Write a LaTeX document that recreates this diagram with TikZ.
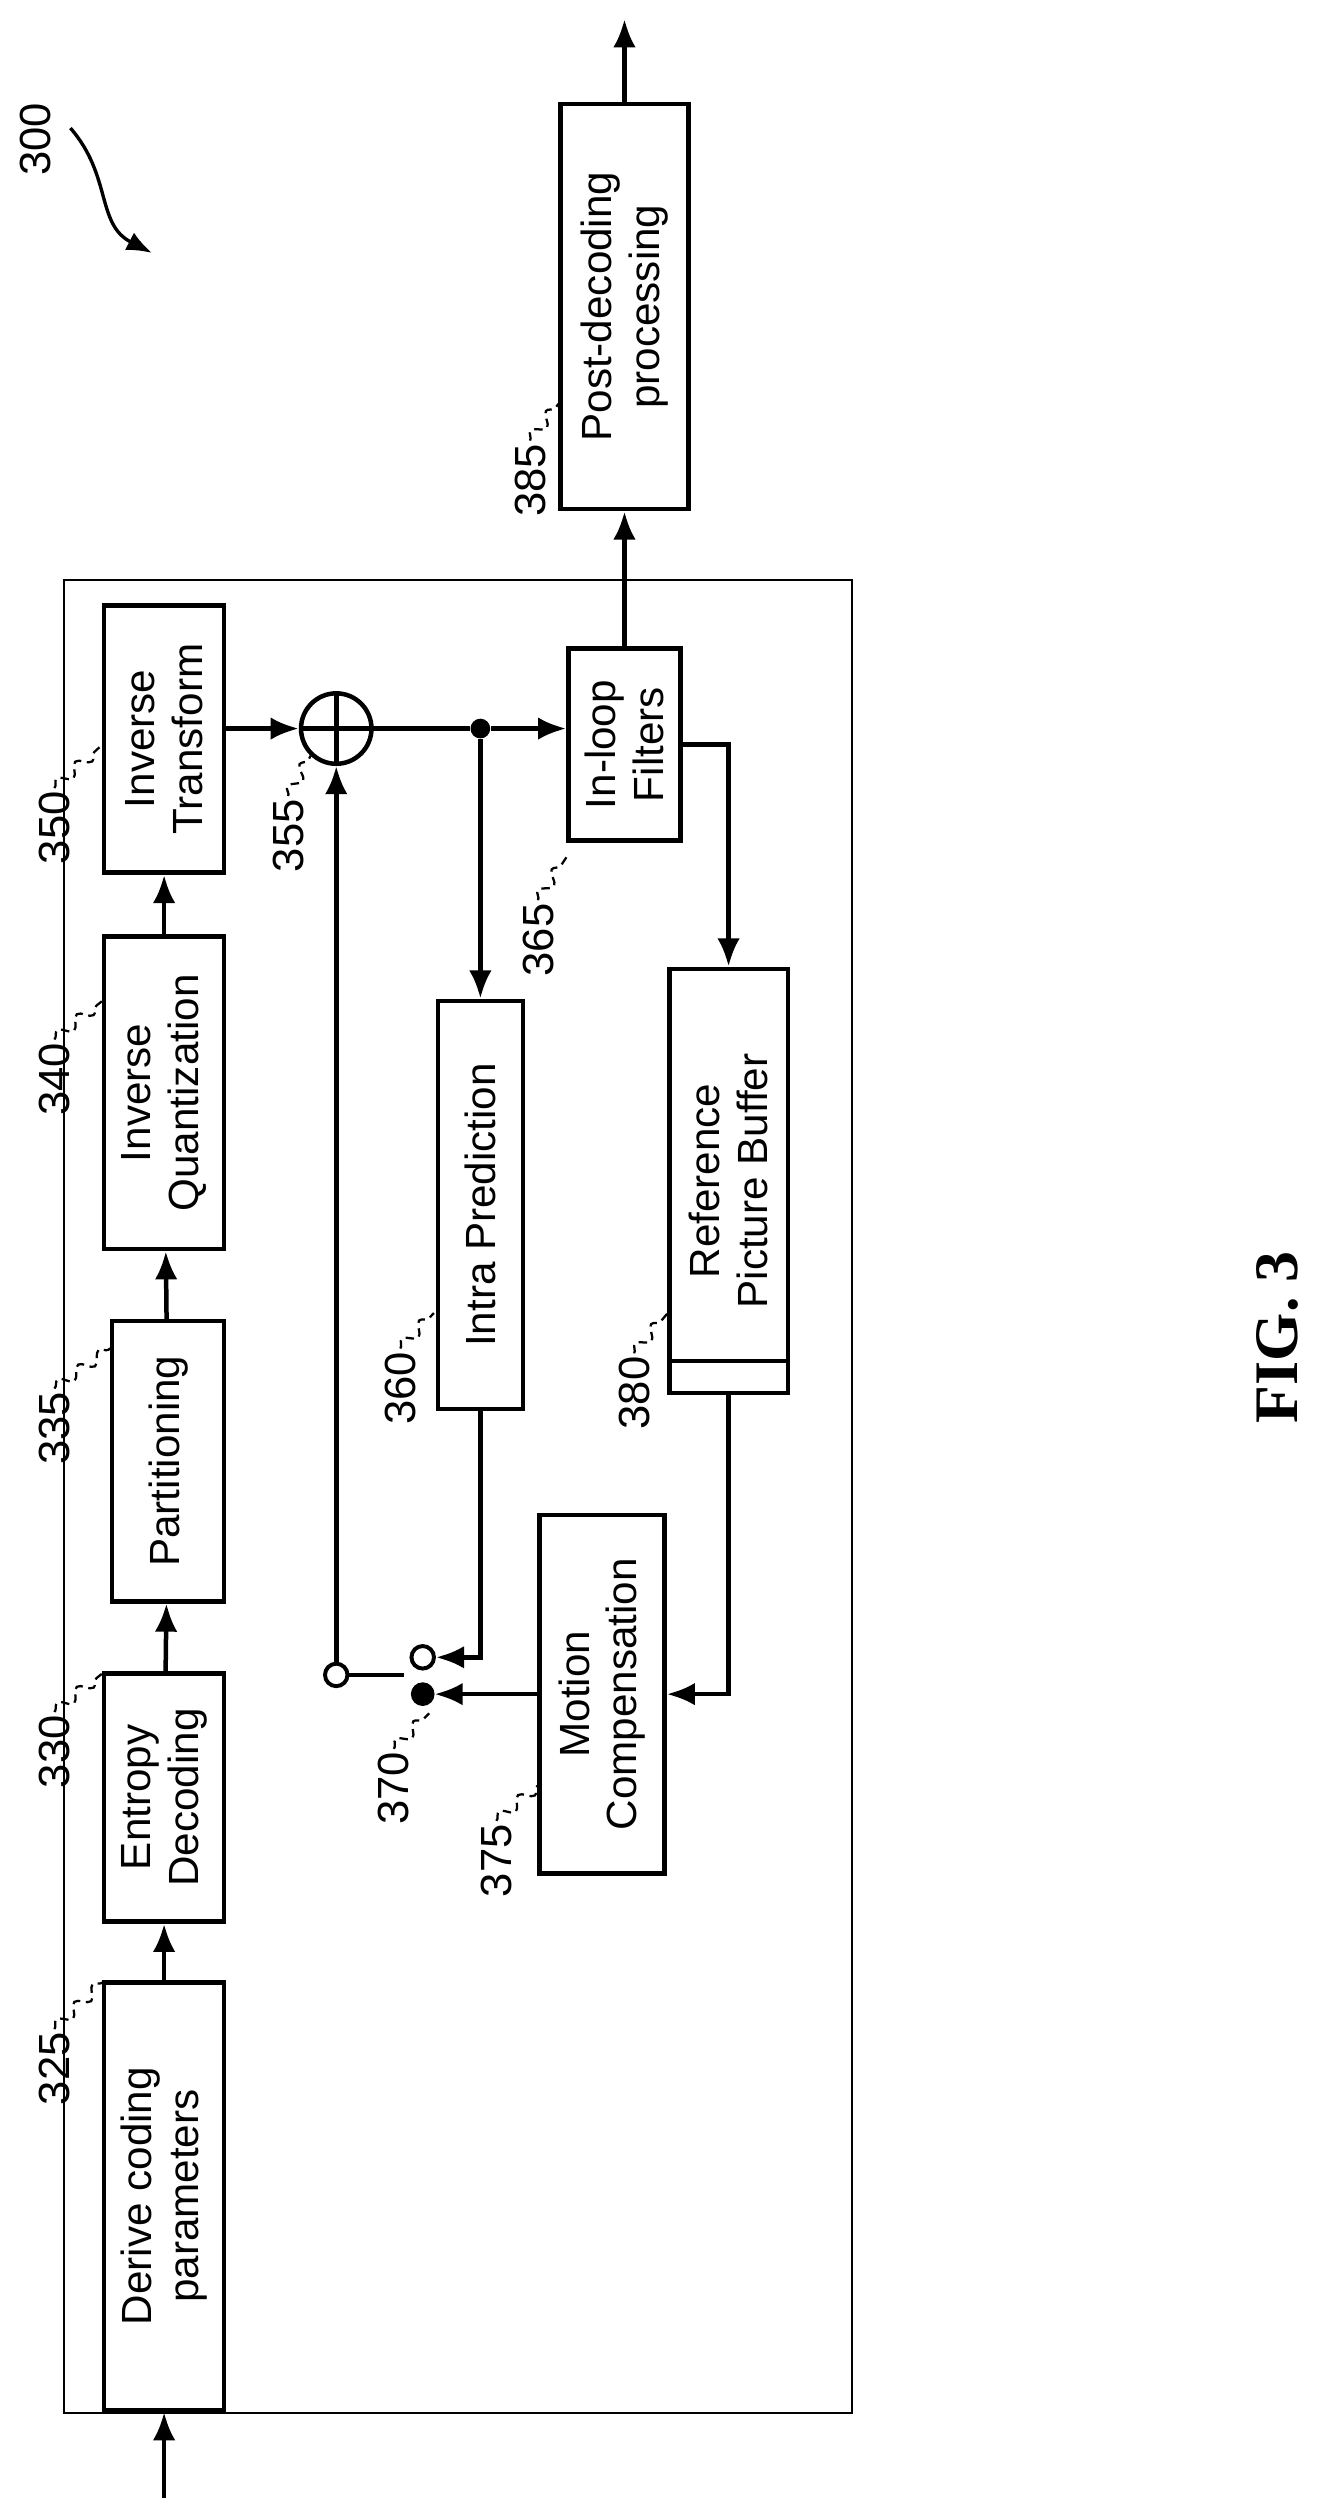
\documentclass[tikz,border=0pt]{standalone}
\usepackage{fontspec}
\setmainfont{Liberation Sans}
\newfontfamily\figfont{Liberation Serif}
\usetikzlibrary{arrows.meta,decorations.pathmorphing}
\def\unitpx{0.02cm}
\tikzset{
  blk/.style={draw, line width=1.6pt, align=center, inner sep=0pt, font=\fontsize{15}{17}\selectfont},
  sz/.style 2 args={minimum width={#1*\unitpx}, minimum height={#2*\unitpx}},
  arr/.style={line width=1.6pt, -{Latex[length=10pt,width=8pt]}},
  wire/.style={line width=1.6pt},
  lab/.style={font=\fontsize{15.5}{17}\selectfont, inner sep=1pt},
  lead/.style={decorate, decoration={snake, amplitude=2pt, segment length=9pt}, densely dashed, line width=0.8pt},
}
\begin{document}
\begin{tikzpicture}[x=0.02cm, y=0.02cm]
\begin{scope}[rotate=90, transform shape]
  \useasboundingbox (0,0) rectangle (1570,830);
  % outer frame
  \draw[line width=0.8pt] (63,298) rectangle (1208,790);
  % blocks
  \node[blk, sz={267}{75}] (derive) at (198.5,727.5) {Derive coding\\parameters};
  \node[blk, sz={155}{75}] (entropy) at (447.5,727.5) {Entropy\\Decoding};
  \node[blk, sz={175}{70}] (part) at (657.5,725) {Partitioning};
  \node[blk, sz={195}{75}] (iquant) at (887.5,727.5) {Inverse\\Quantization};
  \node[blk, sz={167}{75}] (itrans) at (1108.5,727.5) {Inverse\\Transform};
  \node[draw, circle, line width=1.6pt, minimum size={44*\unitpx}, inner sep=0pt] (sum) at (1115,620) {};
  \draw[wire] (sum.north) -- (sum.south) (sum.west) -- (sum.east);
  \node[blk, sz={120}{70}] (inloop) at (1105,440) {In-loop\\Filters};
  \node[blk, sz={253}{80}] (post) at (1378.5,440) {Post-decoding\\processing};
  \node[blk, sz={255}{53}] (intra) at (817.5,530) {Intra Prediction};
  \node[blk, sz={265}{74}] (refbuf) at (832.5,375) {Reference\\Picture Buffer};
  \draw[wire] (720,338) -- (720,412);
  \node[blk, sz={224}{78}] (motion) at (512,454) {Motion\\Compensation};
  % switch
  \node[draw, circle, line width=1.4pt, minimum size=8pt, inner sep=0pt] (pivot) at (524,620) {};
  \node[draw, circle, line width=1.4pt, minimum size=8pt, inner sep=0pt] (cup) at (535,566) {};
  \node[draw, circle, fill, minimum size=8pt, inner sep=0pt] (clow) at (512,566) {};
  \coordinate (armend) at (524,578);
  \node[fill, circle, minimum size=7pt, inner sep=0pt] (junc) at (1115,530) {};
  \coordinate (inp) at (10,727.5);
  \coordinate (outp) at (1558,440);
  % connectors
  \draw[arr] (inp) -- (derive);
  \draw[arr] (derive) -- (entropy);
  \draw[arr] (entropy) -- (part);
  \draw[arr] (part) -- (iquant);
  \draw[arr] (iquant) -- (itrans);
  \draw[arr] (itrans.south -| sum) -- (sum);
  \draw[wire] (sum) -- (junc);
  \draw[arr] (junc) -- (junc |- inloop.north);
  \draw[arr] (junc) -- (intra);
  \draw[arr] (inloop) -- (post);
  \draw[arr] (post) -- (outp);
  \draw[arr] (inloop.south) |- (refbuf.east);
  \draw[arr] (refbuf.west) -| (motion.south);
  \draw[arr] (motion.north) -- (clow);
  \draw[arr] (intra.west) -| (cup);
  \draw[wire] (pivot) -- (armend);
  \draw[arr] (pivot) -- (sum);
  % reference labels
  \node[lab] (l325) at (278,796) {325};
  \draw[lead] (l325.east) -- (332,766);
  \node[lab] (l330) at (476,796) {330};
  \draw[lead] (l330.east) -- (525,766);
  \node[lab] (l335) at (678,796) {335};
  \draw[lead] (l335.east) -- (728,761);
  \node[lab] (l340) at (896,796) {340};
  \draw[lead] (l340.east) -- (945,766);
  \node[lab] (l350) at (1053,796) {350};
  \draw[lead] (l350.east) -- (1105,766);
  \node[lab] (l355) at (1048,650) {355};
  \draw[lead] (l355.east) -- (1098,636);
  \node[lab] (l360) at (703,580) {360};
  \draw[lead] (l360.east) -- (750,559);
  \node[lab] (l365) at (983,494) {365};
  \draw[lead] (l365.east) -- (1035,476);
  \node[lab] (l370) at (453,584) {370};
  \draw[lead] (l370.east) -- (500,562);
  \node[lab] (l375) at (408,520) {375};
  \draw[lead] (l375.east) -- (455,494);
  \node[lab] (l380) at (700,434) {380};
  \draw[lead] (l380.east) -- (750,413);
  \node[lab] (l385) at (1270,499) {385};
  \draw[lead] (l385.east) -- (1318,481);
  \node[lab] (l300) at (1483,808) {300};
  \coordinate (p300) at (1412,735);
  \draw[line width=1.2pt, -{Latex[length=9pt,width=7pt]}] (1490,786) .. controls (1460,760) and (1430,770) .. (p300);
  \node[font=\figfont\bfseries\fontsize{22}{24}\selectfont] (fig) at (735,32) {FIG. 3};
\end{scope}
\end{tikzpicture}
\end{document}
